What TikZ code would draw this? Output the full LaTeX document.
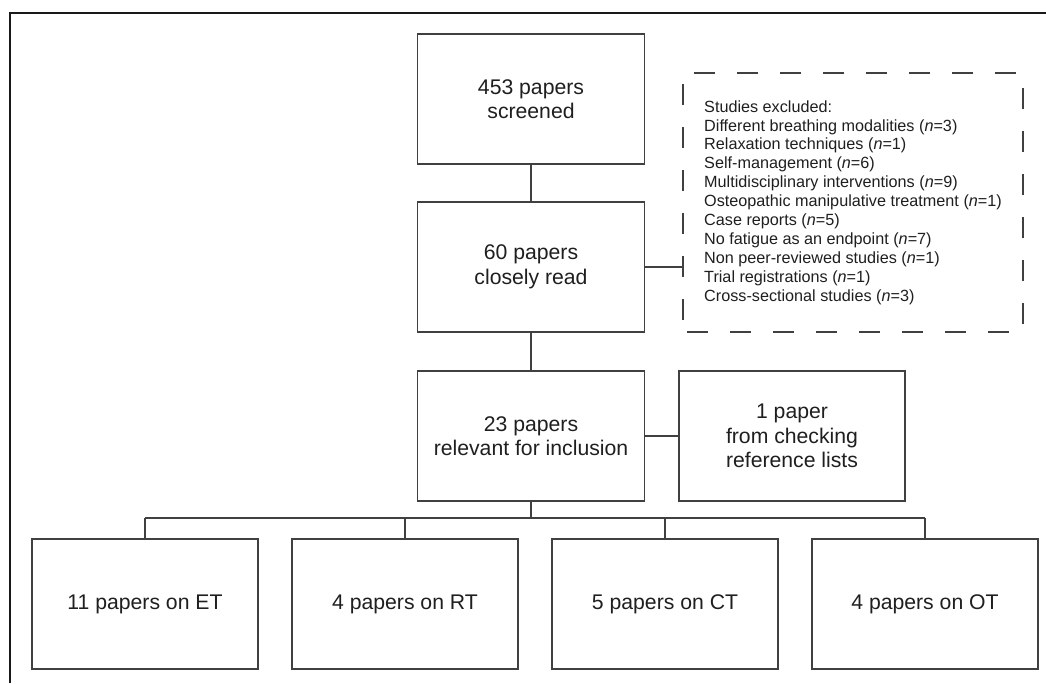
\documentclass[tikz,border=0pt]{standalone}
\usepackage{fontspec}
\setmainfont{Liberation Sans}
\begin{document}
\begin{tikzpicture}[x=1pt,y=-1pt,
  every node/.style={text=black!88},
  mainbox/.style={draw=black!75, line width=1.2pt, minimum width=227pt, minimum height=130pt,
    align=center, inner sep=0pt, font=\fontsize{21.2}{24.5}\selectfont},
  lowbox/.style={mainbox, minimum width=226pt},
  exclbox/.style={draw=black!75, line width=1.2pt, dash pattern=on 21pt off 22pt, dash phase=-4pt,
    minimum width=340pt, minimum height=259pt, align=left, inner sep=0pt,
    font=\fontsize{16.2}{18.9}\selectfont},
  link/.style={draw=black!75, line width=1.2pt}]
\useasboundingbox (0,0) rectangle (1046,683);
\fill[white] (0,0) rectangle (1046,683);
% outer frame (left and top edges)
\draw[line width=2.5pt, black!90] (10,683) -- (10,13) -- (1046,13);

\node[mainbox] (screen) at (531,99) {453 papers\\screened};
\node[mainbox] (read) at (531,267) {60 papers\\closely read};
\node[mainbox] (incl) at (531,436) {23 papers\\relevant for inclusion};
\node[lowbox] (ref) at (792,436) {1 paper\\from checking\\reference lists};
\node[exclbox] (excl) at (853,202.5) {Studies excluded:\\
Different breathing modalities (\textit{n}=3)\\
Relaxation techniques (\textit{n}=1)\\
Self-management (\textit{n}=6)\\
Multidisciplinary interventions (\textit{n}=9)\\
Osteopathic manipulative treatment (\textit{n}=1)\\
Case reports (\textit{n}=5)\\
No fatigue as an endpoint (\textit{n}=7)\\
Non peer-reviewed studies (\textit{n}=1)\\
Trial registrations (\textit{n}=1)\\
Cross-sectional studies (\textit{n}=3)};

\node[lowbox] (et) at (145,604) {11 papers on ET};
\node[lowbox] (rt) at (405,604) {4 papers on RT};
\node[lowbox] (ct) at (665,604) {5 papers on CT};
\node[lowbox] (ot) at (925,604) {4 papers on OT};

\coordinate (branch) at (531,518);

\draw[link] (screen.south) -- (read.north);
\draw[link] (read.east) -- (read.east -| excl.west);
\draw[link] (read.south) -- (incl.north);
\draw[link] (incl.east) -- (ref.west);
\draw[link] (incl.south) -- (branch);
\draw[link] (et.north |- branch) -- (ot.north |- branch);
\draw[link] (et.north |- branch) -- (et.north);
\draw[link] (rt.north |- branch) -- (rt.north);
\draw[link] (ct.north |- branch) -- (ct.north);
\draw[link] (ot.north |- branch) -- (ot.north);
\end{tikzpicture}
\end{document}
